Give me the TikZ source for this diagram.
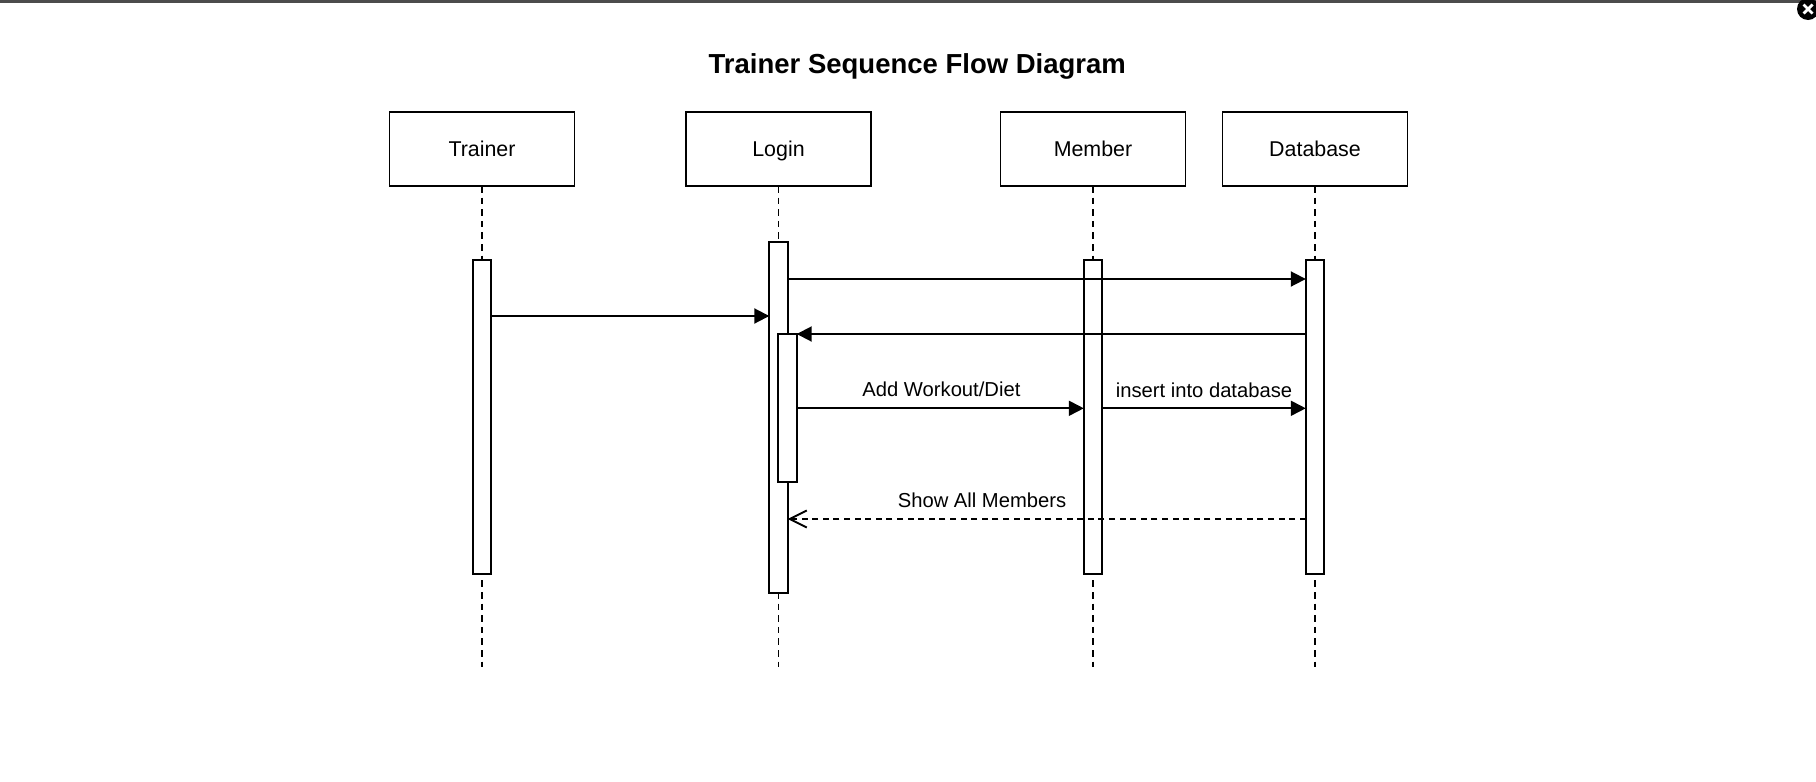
\documentclass[tikz,border=0pt]{standalone}
\usepackage{fontspec}
\setmainfont{Liberation Sans}
\usetikzlibrary{arrows.meta}
\begin{document}
\begin{tikzpicture}[x=0.5pt,y=-0.5pt,
  actor/.style={draw, line width=0.95pt, minimum width=92.5pt, minimum height=37pt, inner sep=0pt, outer sep=0pt, font=\fontsize{10.7pt}{12pt}\selectfont, text height=7.7pt, text depth=0pt},
  bar/.style={draw, fill=white, line width=0.95pt, minimum width=9.2pt, inner sep=0pt, outer sep=0pt},
  life/.style={line width=0.95pt, dash pattern=on 3.3pt off 2.5pt},
  msg/.style={line width=0.95pt, -{Triangle[length=7.5pt,width=7.5pt]}},
  ret/.style={line width=0.95pt, dash pattern=on 3pt off 2.3pt, -{Straight Barb[length=8.5pt,width=8.5pt]}},
  lbl/.style={font=\fontsize{10.1pt}{12pt}\selectfont, inner sep=0pt, anchor=base},
]
\useasboundingbox (0,0) rectangle (1816,782);
\fill[white] (0,0) rectangle (1816,782);
\fill[black!70] (0,0) rectangle (1816,3);
\fill[black] (1808,9) circle[radius=5.5pt];
\draw[white, line width=1.4pt] (1803.5,4.5) -- (1812.5,13.5) (1803.5,13.5) -- (1812.5,4.5);

\node[font=\fontsize{13.75pt}{16pt}\selectfont\bfseries, anchor=base, inner sep=0pt] (title) at (917.3,73.5) {Trainer Sequence Flow Diagram};

\node[actor] (trainer) at (482,149) {Trainer};
\node[actor] (login) at (778.5,149) {Login};
\node[actor] (member) at (1093,149) {Member};
\node[actor] (db) at (1315,149) {Database};

\coordinate (tend) at (482,667);
\coordinate (lend) at (778.5,667);
\coordinate (mend) at (1093,667);
\coordinate (dend) at (1315,667);
\draw[life] (trainer.south) -- (tend);
\draw[life] (login.south) -- (lend);
\draw[life] (member.south) -- (mend);
\draw[life] (db.south) -- (dend);

\node[bar, minimum height=157pt] (tbar) at (482,417) {};
\node[bar, minimum height=175.8pt] (lbar) at (778.5,417.5) {};
\node[bar, minimum height=73.85pt] (ibar) at (787.5,407.85) {};
\node[bar, minimum height=157pt] (mbar) at (1093,417) {};
\node[bar, minimum height=157pt] (dbar) at (1315,417) {};

\draw[msg] (lbar.east |- 0,279) -- (dbar.west |- 0,279);
\draw[msg] (tbar.east |- 0,316) -- (lbar.west |- 0,316);
\draw[msg] (dbar.west |- 0,334) -- (ibar.east |- 0,334);
\draw[msg] (ibar.east |- 0,408.3) -- (mbar.west |- 0,408.3);
\draw[msg] (mbar.east |- 0,408.3) -- (dbar.west |- 0,408.3);
\draw[ret] (dbar.west |- 0,519) -- (lbar.east |- 0,519);

\node[lbl] (l1) at (941.4,396.5) {Add Workout/Diet};
\node[lbl] (l2) at (1204,397) {insert into database};
\node[lbl] (l3) at (982,507.5) {Show All Members};
\end{tikzpicture}
\end{document}
